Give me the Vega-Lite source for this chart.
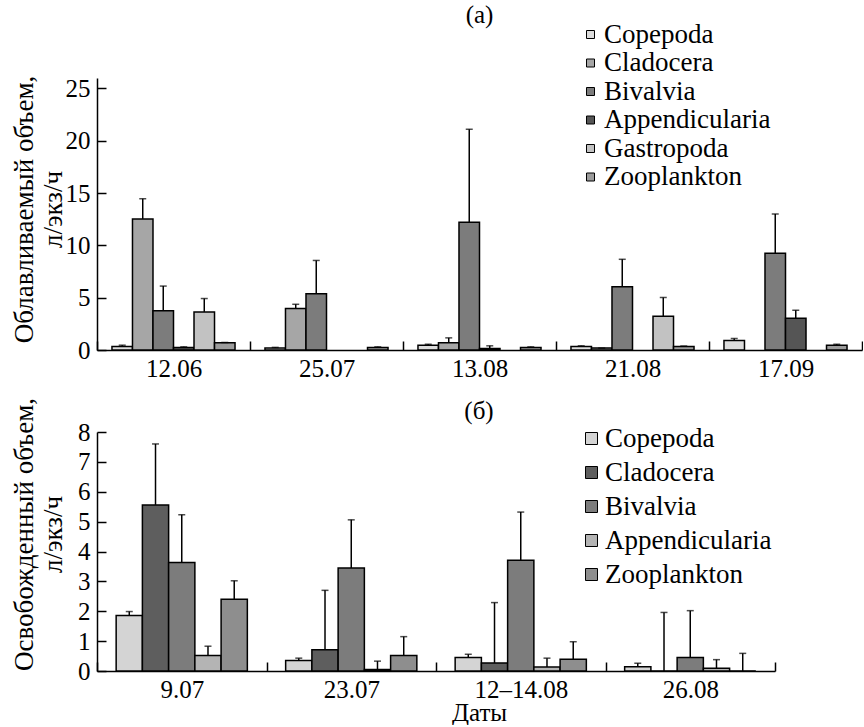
{
  "$schema": "https://vega.github.io/schema/vega-lite/v6.json",
  "background": "white",
  "padding": {"left": 9, "top": 3, "right": 0, "bottom": 0},
  "spacing": 82,
  "bounds": "flush",
  "config": {
    "font": "Liberation Serif",
    "view": {"stroke": null},
    "axis": {
      "domainColor": "black", "domainWidth": 1.5,
      "tickColor": "black", "tickWidth": 1.5, "tickSize": -9,
      "labelFont": "Liberation Serif", "labelFontSize": 25, "labelColor": "black", "labelOverlap": false,
      "titleFont": "Liberation Serif", "titleFontSize": 27, "titleFontWeight": "normal", "titleColor": "black",
      "grid": false
    },
    "legend": {
      "labelFont": "Liberation Serif", "labelColor": "black", "labelFontSize": 27, "labelLimit": 0,
      "symbolType": "square", "symbolStrokeColor": "black", "symbolStrokeWidth": 1
    },
    "title": {"font": "Liberation Serif", "fontSize": 25, "fontWeight": "normal", "color": "black"}
  },
  "datasets": {
    "a": [
      {"date": "12.06", "taxon": "Copepoda", "v": 0.34, "e": 0.46},
      {"date": "12.06", "taxon": "Cladocera", "v": 12.53, "e": 14.46},
      {"date": "12.06", "taxon": "Bivalvia", "v": 3.76, "e": 6.11},
      {"date": "12.06", "taxon": "Appendicularia", "v": 0.24, "e": 0.3},
      {"date": "12.06", "taxon": "Gastropoda", "v": 3.64, "e": 4.92},
      {"date": "12.06", "taxon": "Zooplankton", "v": 0.7, "e": 0.72},
      {"date": "25.07", "taxon": "Copepoda", "v": 0.2, "e": 0.25},
      {"date": "25.07", "taxon": "Cladocera", "v": 3.97, "e": 4.37},
      {"date": "25.07", "taxon": "Bivalvia", "v": 5.38, "e": 8.56},
      {"date": "25.07", "taxon": "Zooplankton", "v": 0.24, "e": 0.3},
      {"date": "13.08", "taxon": "Copepoda", "v": 0.46, "e": 0.55},
      {"date": "13.08", "taxon": "Cladocera", "v": 0.7, "e": 1.16},
      {"date": "13.08", "taxon": "Bivalvia", "v": 12.2, "e": 21.1},
      {"date": "13.08", "taxon": "Appendicularia", "v": 0.15, "e": 0.4},
      {"date": "13.08", "taxon": "Zooplankton", "v": 0.24, "e": 0.3},
      {"date": "21.08", "taxon": "Copepoda", "v": 0.34, "e": 0.4},
      {"date": "21.08", "taxon": "Cladocera", "v": 0.18, "e": 0.18},
      {"date": "21.08", "taxon": "Bivalvia", "v": 6.04, "e": 8.67},
      {"date": "21.08", "taxon": "Gastropoda", "v": 3.22, "e": 5.02},
      {"date": "21.08", "taxon": "Zooplankton", "v": 0.34, "e": 0.38},
      {"date": "17.09", "taxon": "Copepoda", "v": 0.92, "e": 1.1},
      {"date": "17.09", "taxon": "Bivalvia", "v": 9.25, "e": 13.0},
      {"date": "17.09", "taxon": "Appendicularia", "v": 3.03, "e": 3.8},
      {"date": "17.09", "taxon": "Zooplankton", "v": 0.46, "e": 0.55}
    ],
    "b": [
      {"date": "9.07", "taxon": "Copepoda", "v": 1.86, "e": 1.99},
      {"date": "9.07", "taxon": "Cladocera", "v": 5.56, "e": 7.6},
      {"date": "9.07", "taxon": "Bivalvia", "v": 3.63, "e": 5.23},
      {"date": "9.07", "taxon": "Appendicularia", "v": 0.52, "e": 0.83},
      {"date": "9.07", "taxon": "Zooplankton", "v": 2.4, "e": 3.02},
      {"date": "23.07", "taxon": "Copepoda", "v": 0.35, "e": 0.43},
      {"date": "23.07", "taxon": "Cladocera", "v": 0.71, "e": 2.7},
      {"date": "23.07", "taxon": "Bivalvia", "v": 3.45, "e": 5.06},
      {"date": "23.07", "taxon": "Appendicularia", "v": 0.05, "e": 0.33},
      {"date": "23.07", "taxon": "Zooplankton", "v": 0.52, "e": 1.15},
      {"date": "12–14.08", "taxon": "Copepoda", "v": 0.45, "e": 0.56},
      {"date": "12–14.08", "taxon": "Cladocera", "v": 0.27, "e": 2.29},
      {"date": "12–14.08", "taxon": "Bivalvia", "v": 3.71, "e": 5.32},
      {"date": "12–14.08", "taxon": "Appendicularia", "v": 0.13, "e": 0.43},
      {"date": "12–14.08", "taxon": "Zooplankton", "v": 0.39, "e": 0.98},
      {"date": "26.08", "taxon": "Copepoda", "v": 0.14, "e": 0.26},
      {"date": "26.08", "taxon": "Cladocera", "v": 0, "e": 1.96},
      {"date": "26.08", "taxon": "Bivalvia", "v": 0.45, "e": 2.02},
      {"date": "26.08", "taxon": "Appendicularia", "v": 0.09, "e": 0.38},
      {"date": "26.08", "taxon": "Zooplankton", "v": 0, "e": 0.59}
    ]
  },
  "vconcat": [
    {
      "width": 765,
      "height": 272,
      "data": {"name": "a"},
      "title": {"text": "(a)", "anchor": "middle", "frame": "group", "offset": -7},
      "encoding": {
        "x": {"field": "date", "type": "nominal", "sort": null,
              "scale": {"paddingInner": 0, "paddingOuter": 0},
              "axis": {"title": null, "labelAngle": 0, "tickBand": "extent", "labelPadding": 15}},
        "xOffset": {"field": "taxon", "type": "nominal",
                    "scale": {"domain": ["Copepoda", "Cladocera", "Bivalvia", "Appendicularia", "Gastropoda", "Zooplankton"], "paddingInner": 0, "paddingOuter": 0.73}}
      },
      "layer": [
        {
          "mark": {"type": "bar", "stroke": "black", "strokeWidth": 1.5},
          "encoding": {
            "y": {"field": "v", "type": "quantitative", "scale": {"domain": [0, 25]},
                  "axis": {"values": [0, 5, 10, 15, 20, 25], "labelPadding": 16, "labelOverlap": false,
                           "title": ["Облавливаемый объем,", "л/экз/ч"], "titleLineHeight": 29,
                           "titleBaseline": "middle", "titleX": -73, "titleY": 131, "titleAngle": -90}},
            "color": {"field": "taxon", "type": "nominal",
                      "scale": {"domain": ["Copepoda", "Cladocera", "Bivalvia", "Appendicularia", "Gastropoda", "Zooplankton"],
                                "range": ["#dcdcdc", "#a6a6a6", "#7c7c7c", "#555555", "#c2c2c2", "#9c9c9c"]},
                      "legend": {"orient": "none", "legendX": 480, "legendY": -57, "title": null,
                                 "symbolSize": 64, "rowPadding": 0.5, "labelOffset": 0}}
          }
        },
        {
          "mark": {"type": "rule", "color": "black", "strokeWidth": 1.5},
          "encoding": {"y": {"field": "v", "type": "quantitative",
                  "axis": {"values": [0, 5, 10, 15, 20, 25], "labelPadding": 16, "labelOverlap": false,
                           "title": ["Облавливаемый объем,", "л/экз/ч"], "titleLineHeight": 29,
                           "titleBaseline": "middle", "titleX": -73, "titleY": 131, "titleAngle": -90}},
                       "y2": {"field": "e"}}
        },
        {
          "mark": {"type": "tick", "color": "black", "thickness": 1.5, "size": 7},
          "encoding": {"y": {"field": "e", "type": "quantitative",
                  "axis": {"values": [0, 5, 10, 15, 20, 25], "labelPadding": 16, "labelOverlap": false,
                           "title": ["Облавливаемый объем,", "л/экз/ч"], "titleLineHeight": 29,
                           "titleBaseline": "middle", "titleX": -73, "titleY": 131, "titleAngle": -90}}}
        }
      ]
    },
    {
      "width": 678,
      "height": 239,
      "data": {"name": "b"},
      "title": {"text": "(б)", "anchor": "middle", "frame": "group", "dx": 43, "offset": -27},
      "encoding": {
        "x": {"field": "date", "type": "nominal", "sort": null,
              "scale": {"paddingInner": 0, "paddingOuter": 0},
              "axis": {"title": "Даты", "labelAngle": 0, "tickBand": "extent", "labelPadding": 15,
                       "titleFontSize": 25, "titleX": 382, "titleY": 49, "titleBaseline": "alphabetic"}},
        "xOffset": {"field": "taxon", "type": "nominal",
                    "scale": {"domain": ["Copepoda", "Cladocera", "Bivalvia", "Appendicularia", "Zooplankton"], "paddingInner": 0, "paddingOuter": 0.73}}
      },
      "layer": [
        {
          "mark": {"type": "bar", "stroke": "black", "strokeWidth": 1.5},
          "encoding": {
            "y": {"field": "v", "type": "quantitative", "scale": {"domain": [0, 8]},
                  "axis": {"values": [0, 1, 2, 3, 4, 5, 6, 7, 8], "labelPadding": 16, "labelOverlap": false,
                           "title": ["Освобожденный объем,", "л/экз/ч"], "titleLineHeight": 29,
                           "titleBaseline": "middle", "titleX": -73, "titleY": 102, "titleAngle": -90}},
            "color": {"field": "taxon", "type": "nominal",
                      "scale": {"domain": ["Copepoda", "Cladocera", "Bivalvia", "Appendicularia", "Zooplankton"],
                                "range": ["#d4d4d4", "#5e5e5e", "#7c7c7c", "#b4b4b4", "#8e8e8e"]},
                      "legend": {"orient": "none", "legendX": 481, "legendY": -7, "title": null,
                                 "symbolSize": 144, "rowPadding": 6, "labelOffset": 0}}
          }
        },
        {
          "mark": {"type": "rule", "color": "black", "strokeWidth": 1.5},
          "encoding": {"y": {"field": "v", "type": "quantitative",
                  "axis": {"values": [0, 1, 2, 3, 4, 5, 6, 7, 8], "labelPadding": 16, "labelOverlap": false,
                           "title": ["Освобожденный объем,", "л/экз/ч"], "titleLineHeight": 29,
                           "titleBaseline": "middle", "titleX": -73, "titleY": 102, "titleAngle": -90}},
                       "y2": {"field": "e"}}
        },
        {
          "mark": {"type": "tick", "color": "black", "thickness": 1.5, "size": 7},
          "encoding": {"y": {"field": "e", "type": "quantitative",
                  "axis": {"values": [0, 1, 2, 3, 4, 5, 6, 7, 8], "labelPadding": 16, "labelOverlap": false,
                           "title": ["Освобожденный объем,", "л/экз/ч"], "titleLineHeight": 29,
                           "titleBaseline": "middle", "titleX": -73, "titleY": 102, "titleAngle": -90}}}
        }
      ]
    }
  ],
  "resolve": {"scale": {"color": "independent", "x": "independent", "y": "independent", "xOffset": "independent"}}
}
